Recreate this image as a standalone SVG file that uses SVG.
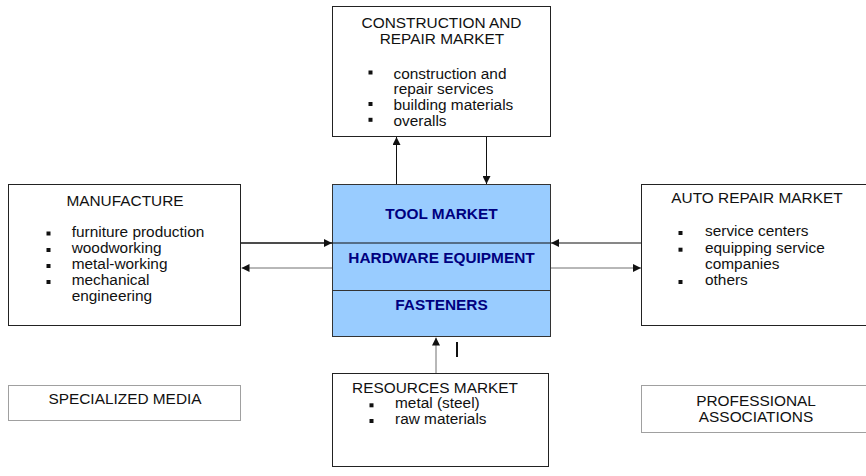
<svg xmlns="http://www.w3.org/2000/svg" width="866" height="476" viewBox="0 0 866 476">
<style>
  .box { fill: #ffffff; stroke: #222222; stroke-width: 1; }
  .gbox { fill: #ffffff; stroke: #a0a0a0; stroke-width: 1; }
  .core { fill: #99ccff; stroke: #333333; stroke-width: 1; }
  .t { font-family: "Liberation Sans", Arial, sans-serif; font-size: 15.4px; fill: #111111; }
  .c { text-anchor: middle; }
  .b { font-family: "Liberation Sans", Arial, sans-serif; font-size: 15.4px; font-weight: bold; fill: #000080; text-anchor: middle; }
  .bul { fill: #111111; }
  .ln { stroke: #111111; stroke-width: 1; fill: none; }
  .lg { stroke: #707070; stroke-width: 1; fill: none; }
</style>
<defs>
  <marker id="ah" viewBox="0 0 10 10" refX="10" refY="5" markerWidth="8" markerHeight="8" markerUnits="userSpaceOnUse" orient="auto">
    <path d="M0,0 L10,5 L0,10 Z" fill="#111111"/>
  </marker>
</defs>

<g id="construction">
  <rect class="box" x="332.5" y="6.5" width="218" height="130"/>
  <text class="t c" x="441.5" y="28.3">CONSTRUCTION AND</text>
  <text class="t c" x="442" y="44.2">REPAIR MARKET</text>
  <rect class="bul" x="368.5" y="70.5" width="4" height="4"/>
  <text class="t" x="393.5" y="78.5">construction and</text>
  <text class="t" x="393.5" y="94.3">repair services</text>
  <rect class="bul" x="368.5" y="102" width="4" height="4"/>
  <text class="t" x="393.5" y="110">building materials</text>
  <rect class="bul" x="368.5" y="117.8" width="4" height="4"/>
  <text class="t" x="393.5" y="125.8">overalls</text>
</g>

<g id="manufacture">
  <rect class="box" x="8.5" y="184.5" width="232" height="141"/>
  <text class="t c" x="125" y="205.7">MANUFACTURE</text>
  <rect class="bul" x="46.5" y="231.5" width="4" height="4"/>
  <text class="t" x="71.7" y="236.7">furniture production</text>
  <rect class="bul" x="46.5" y="248" width="4" height="4"/>
  <text class="t" x="71.7" y="253.2">woodworking</text>
  <rect class="bul" x="46.5" y="264" width="4" height="4"/>
  <text class="t" x="71.7" y="269">metal-working</text>
  <rect class="bul" x="46.5" y="280" width="4" height="4"/>
  <text class="t" x="71.7" y="284.8">mechanical</text>
  <text class="t" x="71.7" y="300.6">engineering</text>
</g>

<g id="core">
  <rect class="core" x="332.5" y="184.5" width="218" height="152"/>
  <line x1="332.5" y1="290.5" x2="550.5" y2="290.5" stroke="#333333" stroke-width="1"/>
  <text class="b" x="441.5" y="219.3">TOOL MARKET</text>
  <text class="b" x="441.5" y="262.7">HARDWARE EQUIPMENT</text>
  <text class="b" x="441.5" y="310">FASTENERS</text>
</g>

<g id="auto-repair">
  <rect class="box" x="641.5" y="184.5" width="230" height="141"/>
  <text class="t c" x="757" y="203.3">AUTO REPAIR MARKET</text>
  <rect class="bul" x="678.5" y="231" width="4" height="4"/>
  <text class="t" x="705" y="236">service centers</text>
  <rect class="bul" x="678.5" y="247.7" width="4" height="4"/>
  <text class="t" x="705" y="252.7">equipping service</text>
  <text class="t" x="705" y="269">companies</text>
  <rect class="bul" x="678.5" y="280" width="4" height="4"/>
  <text class="t" x="705" y="285">others</text>
</g>

<g id="resources">
  <rect class="box" x="332.5" y="373.5" width="216" height="93"/>
  <text class="t c" x="435" y="392.7">RESOURCES MARKET</text>
  <rect class="bul" x="369.5" y="403.3" width="4" height="4"/>
  <text class="t" x="395" y="408.3">metal (steel)</text>
  <rect class="bul" x="369.5" y="419" width="4" height="4"/>
  <text class="t" x="395" y="424">raw materials</text>
</g>

<g id="specialized-media">
  <rect class="gbox" x="8.5" y="385.5" width="232" height="35"/>
  <text class="t c" x="125" y="404">SPECIALIZED MEDIA</text>
</g>

<g id="professional-associations">
  <rect class="gbox" x="641.5" y="385.5" width="230" height="47"/>
  <text class="t c" x="756" y="405.5">PROFESSIONAL</text>
  <text class="t c" x="756" y="421.5">ASSOCIATIONS</text>
</g>

<g id="connectors">
  <line class="ln" x1="396.5" y1="184" x2="396.5" y2="137" marker-end="url(#ah)"/>
  <line class="ln" x1="486.5" y1="137" x2="486.5" y2="184" marker-end="url(#ah)"/>
  <line class="ln" x1="241" y1="243" x2="550.5" y2="243"/>
  <line class="ln" x1="241" y1="243" x2="332" y2="243" marker-end="url(#ah)"/>
  <line class="ln" x1="641" y1="243" x2="551" y2="243" marker-end="url(#ah)"/>
  <line class="lg" x1="332" y1="268" x2="241.5" y2="268" marker-end="url(#ah)"/>
  <line class="lg" x1="551" y1="268" x2="641" y2="268" marker-end="url(#ah)"/>
  <line class="lg" x1="436" y1="373" x2="436" y2="337.5" marker-end="url(#ah)"/>
  <line x1="457" y1="342" x2="457" y2="357" stroke="#111111" stroke-width="2"/>
</g>
</svg>
